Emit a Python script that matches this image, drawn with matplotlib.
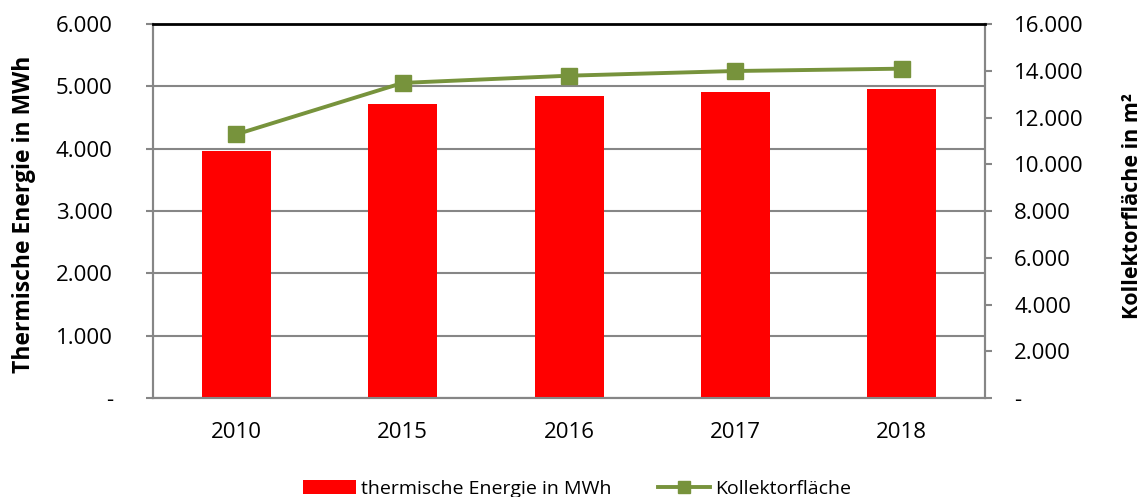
import matplotlib
matplotlib.use("Agg")
import matplotlib.pyplot as plt
from matplotlib.ticker import FuncFormatter, MultipleLocator
from matplotlib.lines import Line2D
from matplotlib.patches import Patch

plt.rcParams['font.family'] = ['Open Sans', 'DejaVu Sans']

years = ["2010", "2015", "2016", "2017", "2018"]
energie_mwh = [3960, 4720, 4840, 4910, 4950]
kollektorflaeche = [11280, 13480, 13790, 13990, 14090]

def de_fmt(v, pos):
    if abs(v) < 1e-9:
        return "-"
    return f"{v:,.0f}".replace(",", ".")

fig = plt.figure(figsize=(11.43, 4.97), dpi=100)
ax = fig.add_axes([0.1339, 0.199, 0.7279, 0.7527])
ax2 = ax.twinx()

x = list(range(len(years)))
ax.bar(x, energie_mwh, width=0.415, color='#FF0000', zorder=3)
ax2.plot(x, kollektorflaeche, color='#77933C', linewidth=2.8, marker='s',
         markersize=11, zorder=4)

ax.set_xlim(-0.5, len(years) - 0.5)
ax.set_ylim(0, 6000)
ax2.set_ylim(0, 16000)
ax.yaxis.set_major_locator(MultipleLocator(1000))
ax2.yaxis.set_major_locator(MultipleLocator(2000))
ax.yaxis.set_major_formatter(FuncFormatter(de_fmt))
ax2.yaxis.set_major_formatter(FuncFormatter(de_fmt))
ax.set_xticks(x)
ax.set_xticklabels(years)

grid_c = '#868686'
ax.grid(axis='y', color=grid_c, linewidth=1.5, zorder=0)
ax.set_axisbelow(True)
for a in (ax, ax2):
    for s in a.spines.values():
        s.set_color(grid_c)
        s.set_linewidth(1.5)
ax2.spines['top'].set_color('black')
ax2.spines['top'].set_linewidth(2)
ax.spines['top'].set_visible(False)

ax.tick_params(axis='x', length=0, labelsize=16, pad=17, colors='black')
ax.tick_params(axis='y', length=5, width=1.5, color=grid_c, labelsize=16, pad=24)
ax2.tick_params(axis='y', length=5, width=1.5, color=grid_c, labelsize=16, pad=16)
for lab in ax.get_yticklabels() + ax2.get_yticklabels() + ax.get_xticklabels():
    lab.set_color('black')

fig.text(0.021, 0.569, "Thermische Energie in MWh", rotation=90, fontsize=16.5,
         fontweight='bold', ha='center', va='center')
fig.text(0.9905, 0.585, "Kollektorfläche in m²", rotation=90, fontsize=15.5,
         fontweight='bold', ha='center', va='center')

handles = [Patch(facecolor='#FF0000', edgecolor='none'),
           Line2D([0], [0], color='#77933C', linewidth=2.8, marker='s', markersize=9)]
fig.legend(handles, ["thermische Energie in MWh", "Kollektorfläche"],
           loc='center', bbox_to_anchor=(0.505, 0.017), ncol=2, frameon=False,
           fontsize=14, handlelength=2.7, handletextpad=0.25, columnspacing=2.4,
           handleheight=0.7, borderpad=0)

fig.savefig("out.png", dpi=100)
